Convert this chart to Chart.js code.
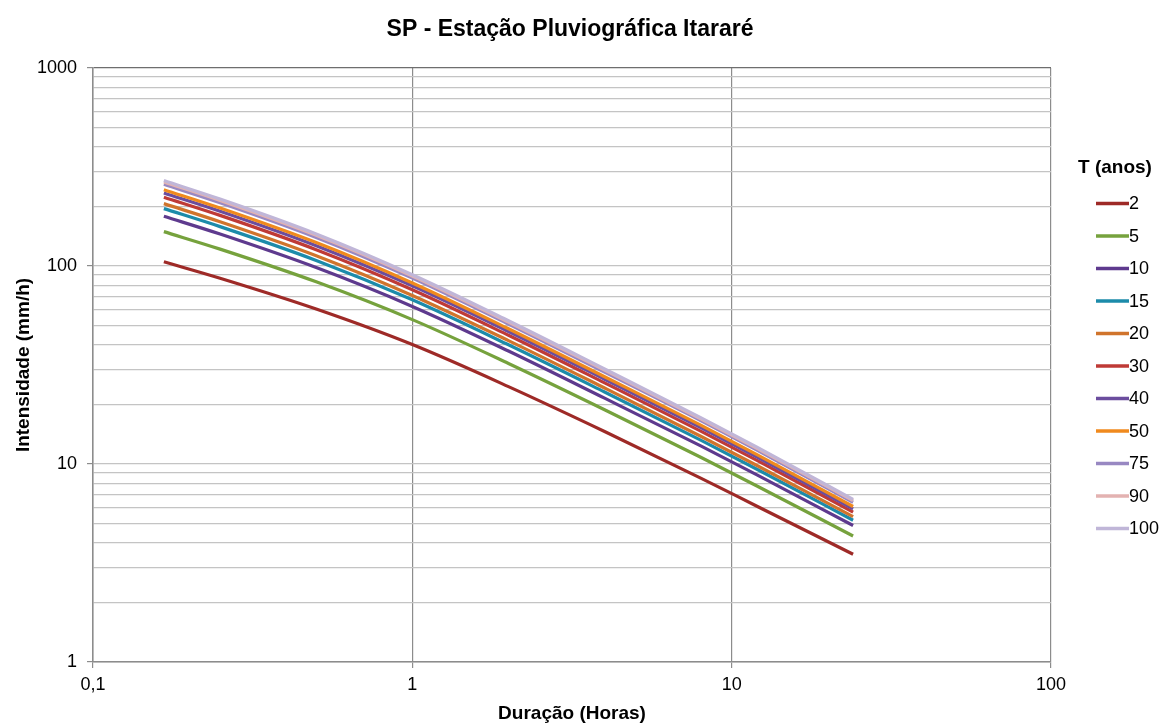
<!DOCTYPE html>
<html>
<head>
<meta charset="utf-8">
<script src="https://cdn.jsdelivr.net/npm/chart.js@4"></script>
<style>
html,body{margin:0;padding:0;background:#fff;}
#wrap{width:1164px;height:725px;position:relative;}
</style>
</head>
<body>
<div id="wrap"><canvas id="c" width="1164" height="725"></canvas></div>
<script>
// Durations (hours)
const durations = [0.1667, 0.25, 0.5, 1, 2, 4, 8, 12, 24];
// Return periods (years)
const returnPeriods = ['2','5','10','15','20','30','40','50','75','90','100'];
// Intensities (mm/h) per return period
const i_T2   = [105.0, 86.7, 60.6, 40.1, 24.6, 14.6,  8.49,  6.12, 3.50];
const i_T5   = [149.1,121.7, 83.2, 53.6, 32.2, 18.8, 10.81,  7.74, 4.33];
const i_T10  = [178.4,145.0, 98.2, 62.5, 37.2, 21.5, 12.34,  8.81, 4.89];
const i_T15  = [194.9,158.1,106.7, 67.5, 40.0, 23.1, 13.21,  9.41, 5.20];
const i_T20  = [206.5,167.3,112.7, 71.0, 42.0, 24.2, 13.81,  9.83, 5.42];
const i_T30  = [222.6,180.2,120.9, 75.9, 44.7, 25.7, 14.66, 10.43, 5.72];
const i_T40  = [233.9,189.2,126.7, 79.4, 46.7, 26.8, 15.26, 10.84, 5.94];
const i_T50  = [242.8,196.1,131.3, 82.1, 48.2, 27.6, 15.72, 11.16, 6.10];
const i_T75  = [258.6,208.8,139.4, 86.9, 50.9, 29.1, 16.56, 11.74, 6.41];
const i_T90  = [265.7,214.4,143.0, 89.1, 52.1, 29.8, 16.93, 12.01, 6.54];
const i_T100 = [270.0,217.8,145.2, 90.4, 52.9, 30.2, 17.15, 12.16, 6.62];
// Axis ticks
const xTicks = [0.1, 1, 10, 100];
const yTicks = [1,2,3,4,5,6,7,8,9,10,20,30,40,50,60,70,80,90,100,200,300,400,500,600,700,800,900,1000];
const yLabelTicks = [1, 10, 100, 1000];
const chartTitle = 'SP - Estação Pluviográfica Itararé';
const legendTitle = 'T (anos)';

const seriesValues = [i_T2,i_T5,i_T10,i_T15,i_T20,i_T30,i_T40,i_T50,i_T75,i_T90,i_T100];
const colors = ['#9E2A27','#76A23D','#5E3A8E','#1C8BAA','#D0742C','#BF3A36','#6B4D9E','#F08A1E','#9888C2','#E3B2B1','#C0B6D8'];

const datasets = returnPeriods.map((t, k) => ({
  label: t,
  data: durations.map((d, j) => ({x: d, y: seriesValues[k][j]})),
  borderColor: colors[k],
  backgroundColor: colors[k],
  borderWidth: 3.2,
  pointRadius: 0,
  pointHoverRadius: 0,
  fill: false,
  tension: 0.4,
  cubicInterpolationMode: 'monotone',
  order: returnPeriods.length - k
}));

const FONT = '"Liberation Sans", Arial, sans-serif';

const decorPlugin = {
  id: 'decor',
  afterDraw(chart) {
    const ctx = chart.ctx;
    ctx.save();
    ctx.fillStyle = '#000';
    ctx.textAlign = 'center';
    ctx.textBaseline = 'middle';
    ctx.font = 'bold 23px ' + FONT;
    ctx.fillText(chartTitle, 570, 30);
    ctx.font = 'bold 19px ' + FONT;
    ctx.fillText(legendTitle, 1115, 168);
    ctx.font = '18px ' + FONT;
    ctx.textAlign = 'left';
    chart.data.datasets.forEach((ds, k) => {
      const y = 203.5 + k * 32.5;
      ctx.strokeStyle = ds.borderColor;
      ctx.lineWidth = 3.4;
      ctx.beginPath();
      ctx.moveTo(1096, y);
      ctx.lineTo(1129, y);
      ctx.stroke();
      ctx.fillStyle = '#000';
      ctx.fillText(ds.label, 1129, y + 1);
    });
    ctx.restore();
  }
};

new Chart(document.getElementById('c'), {
  type: 'line',
  data: { datasets },
  plugins: [decorPlugin],
  options: {
    responsive: false,
    animation: false,
    events: [],
    layout: { padding: { left: 0, right: 113, top: 68, bottom: 0 } },
    plugins: {
      legend: { display: false },
      tooltip: { enabled: false },
      title: { display: false }
    },
    scales: {
      x: {
        type: 'logarithmic',
        min: 0.1, max: 100,
        afterBuildTicks: (s) => { s.ticks = xTicks.map(v => ({value: v})); },
        afterFit: (s) => { s.height = 63; },
        ticks: {
          color: '#000',
          font: { family: FONT, size: 18 },
          padding: 6,
          maxRotation: 0,
          autoSkip: false,
          callback: (v) => String(v).replace('.', ',')
        },
        grid: { color: '#8c8c8c', lineWidth: 1.2, tickLength: 6, tickColor: '#8c8c8c' },
        border: { color: '#8c8c8c', width: 1.5 },
        title: {
          display: true,
          text: 'Duração (Horas)',
          color: '#000',
          font: { family: FONT, size: 19, weight: 'bold' },
          padding: { top: 0, bottom: 0 }
        }
      },
      y: {
        type: 'logarithmic',
        min: 1, max: 1000,
        afterBuildTicks: (s) => { s.ticks = yTicks.map(v => ({value: v})); },
        afterFit: (s) => { s.width = 93; },
        ticks: {
          color: '#000',
          font: { family: FONT, size: 18 },
          padding: 10,
          autoSkip: false,
          callback: (v) => yLabelTicks.includes(v) ? String(v) : ''
        },
        grid: {
          color: (c) => (c.tick && c.tick.value === 1000) ? '#6e6e6e' : '#c4c4c4',
          lineWidth: 1.2,
          tickLength: 6,
          tickColor: (c) => (c.tick && yLabelTicks.includes(c.tick.value)) ? '#8c8c8c' : 'rgba(0,0,0,0)'
        },
        border: { color: '#8c8c8c', width: 1.5 },
        title: {
          display: true,
          text: 'Intensidade (mm/h)',
          color: '#000',
          font: { family: FONT, size: 19, weight: 'bold' },
          padding: { top: 12.6, bottom: 0 }
        }
      }
    }
  }
});
</script>
</body>
</html>
